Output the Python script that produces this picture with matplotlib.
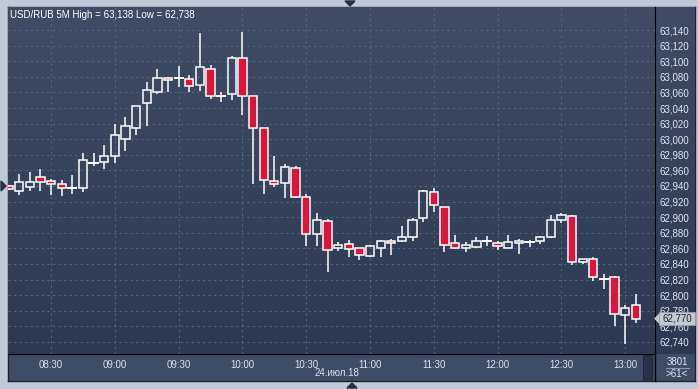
import matplotlib

matplotlib.use("Agg")
import matplotlib.pyplot as plt
import numpy as np
import pandas as pd
from matplotlib.colors import LinearSegmentedColormap
from matplotlib.patches import Rectangle, Polygon

plt.rcParams["font.family"] = ["Liberation Sans", "DejaVu Sans"]

# USD/RUB 5-minute candles, 24 Jul 2018, 08:10 - 13:05
times = pd.date_range("2018-07-24 08:10", periods=60, freq="5min")
opens = [62.940, 62.934, 62.939, 62.952, 62.947, 62.943, 62.937, 62.938, 62.969, 62.971,
         62.979, 63.000, 63.015, 63.047, 63.061, 63.078, 63.078, 63.077, 63.069, 63.090,
         63.056, 63.058, 63.104, 63.056, 63.014, 62.947, 62.944, 62.963, 62.926, 62.878,
         62.895, 62.860, 62.865, 62.860, 62.850, 62.861, 62.870, 62.869, 62.874, 62.899,
         62.932, 62.913, 62.867, 62.860, 62.862, 62.869, 62.867, 62.860, 62.867, 62.868,
         62.869, 62.874, 62.897, 62.902, 62.842, 62.846, 62.821, 62.823, 62.774, 62.787]
highs = [62.941, 62.955, 62.958, 62.962, 62.949, 62.948, 62.954, 62.982, 62.982, 62.993,
         63.019, 63.029, 63.043, 63.073, 63.090, 63.080, 63.094, 63.082, 63.136, 63.095,
         63.061, 63.107, 63.138, 63.056, 63.014, 62.978, 62.968, 62.966, 62.930, 62.905,
         62.898, 62.868, 62.871, 62.860, 62.864, 62.871, 62.872, 62.889, 62.899, 62.935,
         62.937, 62.913, 62.877, 62.868, 62.875, 62.876, 62.870, 62.877, 62.872, 62.871,
         62.876, 62.903, 62.905, 62.903, 62.847, 62.849, 62.827, 62.825, 62.787, 62.802]
lows = [62.935, 62.928, 62.933, 62.933, 62.929, 62.927, 62.930, 62.932, 62.965, 62.962,
        62.970, 62.985, 63.005, 63.017, 63.058, 63.061, 63.067, 63.061, 63.062, 63.051,
        63.048, 63.050, 63.031, 62.943, 62.930, 62.939, 62.924, 62.925, 62.863, 62.863,
        62.830, 62.857, 62.849, 62.845, 62.849, 62.849, 62.852, 62.868, 62.869, 62.894,
        62.907, 62.856, 62.859, 62.856, 62.860, 62.863, 62.858, 62.860, 62.853, 62.862,
        62.865, 62.873, 62.893, 62.839, 62.840, 62.818, 62.808, 62.761, 62.738, 62.764]
closes = [62.936, 62.945, 62.945, 62.945, 62.943, 62.938, 62.937, 62.973, 62.969, 62.978,
          63.005, 63.017, 63.043, 63.063, 63.079, 63.076, 63.078, 63.068, 63.092, 63.055,
          63.056, 63.104, 63.056, 63.014, 62.948, 62.943, 62.964, 62.926, 62.879, 62.896,
          62.858, 62.864, 62.859, 62.851, 62.863, 62.869, 62.867, 62.874, 62.897, 62.934,
          62.915, 62.864, 62.860, 62.864, 62.869, 62.869, 62.863, 62.868, 62.870, 62.868,
          62.875, 62.897, 62.903, 62.843, 62.846, 62.823, 62.821, 62.776, 62.784, 62.770]
price_ticks = [63.14, 63.12, 63.10, 63.08, 63.06, 63.04, 63.02, 63.00, 62.98, 62.96,
               62.94, 62.92, 62.90, 62.88, 62.86, 62.84, 62.82, 62.80, 62.78, 62.76, 62.74]
title = "USD/RUB 5M High = 63,138 Low = 62,738"
date_label = "24.июл.18"
last_price = 62.770

W, H = 698, 389
OUTER = "#bfcad8"
TXT = "#dce6f2"
RED = "#dc143c"
GRID = "#56637d"
FS = 7

fig = plt.figure(figsize=(W / 100, H / 100), dpi=100, facecolor=OUTER)


def frac(x0, y0, x1, y1):
    return [x0 / W, 1 - y1 / H, (x1 - x0) / W, (y1 - y0) / H]


# panel behind the axis bands
panel = fig.add_axes(frac(8, 7, 695, 381))
panel.set_facecolor("#3d4c67")
panel.set_xticks([])
panel.set_yticks([])
for s in panel.spines.values():
    s.set_color("#1c2433")
    s.set_linewidth(1)

# right price band
band = fig.add_axes(frac(655, 7, 695, 354))
grad = LinearSegmentedColormap.from_list("bg", ["#2c3953", "#3f4c66"])
band.imshow(np.linspace(0, 1, 100).reshape(-1, 1), cmap=grad, aspect="auto",
            extent=[0, 1, 0, 1], origin="lower")
band.axis("off")

ax = fig.add_axes(frac(8, 7, 655, 354))
ax.set_xlim(-0.05, 60.8)
ax.set_ylim(62.7246, 63.1695)
ax.imshow(np.linspace(0, 1, 100).reshape(-1, 1), cmap=grad, aspect="auto",
          extent=[-0.05, 60.8, 62.7246, 63.1695], origin="lower", zorder=0)

# grid
for p in price_ticks:
    ax.axhline(p, color=GRID, lw=0.8, dashes=(2, 3), zorder=1)
tick_pos = [i for i, t in enumerate(times) if t.minute % 30 == 0]
tick_lab = [times[i].strftime("%H:%M") for i in tick_pos]
for i in tick_pos:
    ax.axvline(i, color=GRID, lw=0.8, dashes=(2, 3), zorder=1)

# candles
bw = 0.78
for i, (o, h, l, c) in enumerate(zip(opens, highs, lows, closes)):
    top, bot = max(o, c), min(o, c)
    ax.plot([i, i], [top, h], color="white", lw=1.1, zorder=3, solid_capstyle="butt")
    ax.plot([i, i], [l, bot], color="white", lw=1.1, zorder=3, solid_capstyle="butt")
    if top - bot < 0.0015:
        ax.plot([i - bw / 2, i + bw / 2], [o, o], color="white", lw=1.4, zorder=4)
        continue
    face = RED if c < o else "none"
    ax.add_patch(Rectangle((i - bw / 2, bot), bw, top - bot, facecolor=face,
                           edgecolor="white", lw=1.1, zorder=4))

ax.yaxis.tick_right()
ax.set_yticks(price_ticks)
ax.set_yticklabels([f"{p:.3f}".replace(".", ",") for p in price_ticks])
ax.set_xticks(tick_pos)
ax.set_xticklabels(tick_lab)
ax.tick_params(axis="both", length=0, colors=TXT, labelsize=FS)
ax.tick_params(axis="y", pad=3)
ax.tick_params(axis="x", pad=4)
for s in ["top", "left"]:
    ax.spines[s].set_visible(False)
ax.spines["right"].set_color("black")
ax.spines["bottom"].set_color("black")

fig.text(10 / W, 1 - 15 / H, title, color="white", fontsize=FS, va="center")
fig.text(337 / W, 1 - 373 / H, date_label, color=TXT, fontsize=FS,
         ha="center", va="center")

# overlay in pixel coordinates for the chrome bits
ov = fig.add_axes([0, 0, 1, 1])
ov.set_xlim(0, W)
ov.set_ylim(H, 0)
ov.axis("off")
ov.plot([655, 655], [354, 381], color="black", lw=1)
ov.add_patch(Rectangle((643, 355), 9, 26, facecolor="#27324a", edgecolor="#1c2433", lw=0.6))
ov.text(677, 362, "3801", color=TXT, fontsize=FS, ha="center", va="center")
ov.plot([666, 689], [368, 368], color="#8a98b0", lw=0.8)
ov.text(677, 374, ">61<", color=TXT, fontsize=FS, ha="center", va="center")
ov.add_patch(Polygon([[345, 1], [355, 1], [350, 6]], color="#2a3040"))
ov.add_patch(Polygon([[347, 388], [357, 388], [352, 383]], color="#2a3040"))
ov.add_patch(Polygon([[1, 181], [1, 191], [6, 186]], color="#2a3040"))

# last price flag
yl = 30 + (63.14 - last_price) * 780
ov.add_patch(Polygon([[655, yl], [660, yl - 5], [660, yl + 5]], color="#c4c9cf"))
ov.add_patch(Rectangle((659, yl - 6.5), 36, 13, facecolor="#c4c9cf", edgecolor="#9aa2ac", lw=0.6))
ov.text(677, yl, f"{last_price:.3f}".replace(".", ","), color="#1e2430",
        fontsize=FS, ha="center", va="center")

fig.savefig("out.png", dpi=100, facecolor=OUTER)
